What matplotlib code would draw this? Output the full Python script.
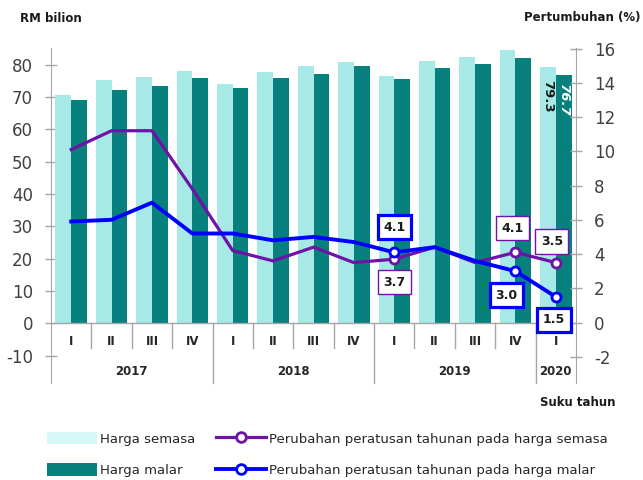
import matplotlib
matplotlib.use('Agg')
import matplotlib.pyplot as plt
from matplotlib.patches import Patch
from matplotlib.lines import Line2D
import numpy as np

# ---------------- data ----------------
years = ['2017', '2018', '2019', '2020']
year_span = [4, 4, 4, 1]
quarters = ['I', 'II', 'III', 'IV', 'I', 'II', 'III', 'IV', 'I', 'II', 'III', 'IV', 'I']
semasa = [70.7, 75.1, 76.1, 77.9, 73.9, 77.6, 79.4, 80.8, 76.6, 81.2, 82.3, 84.4, 79.3]
malar = [69.1, 72.2, 73.3, 75.8, 72.6, 75.8, 77.2, 79.4, 75.6, 79.0, 80.2, 82.0, 76.7]
pct_semasa = [10.1, 11.2, 11.2, 7.8, 4.2, 3.6, 4.4, 3.5, 3.7, 4.4, 3.5, 4.1, 3.5]
pct_malar = [5.9, 6.0, 7.0, 5.2, 5.2, 4.8, 5.0, 4.7, 4.1, 4.4, 3.6, 3.0, 1.5]
labelled_idx = [8, 11, 12]

# ---------------- style ----------------
c_light = '#A6E9E6'
c_light_leg = '#D6F8F9'
c_dark = '#08807D'
c_purple = '#6E12A8'
c_blue = '#0000FF'
c_axis = '#A6A6A6'
c_tick = '#404040'

plt.rcParams['font.family'] = ['DejaVu Sans']
plt.rcParams['axes.unicode_minus'] = False

fig = plt.figure(figsize=(6.43, 4.80), dpi=100)
W, H = 643, 480
x0, x1, y0, y1 = 51, 576, 48, 383
ax = fig.add_axes([x0 / W, 1 - y1 / H, (x1 - x0) / W, (y1 - y0) / H])
ax2 = ax.twinx()

n = len(quarters)
x = np.arange(n)
bw = 0.39
ax.bar(x - bw / 2, semasa, width=bw, color=c_light, zorder=2)
ax.bar(x + bw / 2, malar, width=bw, color=c_dark, zorder=2)

ax.set_xlim(-0.5, n - 0.5)
ax.set_ylim(-18.4, 85.1)
ax2.set_ylim(-3.53, 16.03)
ax.set_yticks(np.arange(-10, 81, 10))
ax2.set_yticks(np.arange(-2, 17, 2))
ax.set_xticks([])

for a in (ax, ax2):
    for s in ('top', 'bottom'):
        a.spines[s].set_visible(False)
    a.tick_params(axis='y', direction='inout', length=8, width=1,
                  color=c_axis, labelcolor=c_tick, labelsize=12, pad=9)
ax.spines['left'].set_color(c_axis)
ax.spines['right'].set_visible(False)
ax2.spines['left'].set_visible(False)
ax2.spines['right'].set_color(c_axis)
ax.set_facecolor('none')

# category axis at zero
ax.axhline(0, color=c_axis, lw=1, zorder=3)
# separators
bounds = np.cumsum(year_span)[:-1] - 0.5
for b in np.arange(0.5, n - 0.5, 1.0):
    if b in bounds:
        ax.plot([b, b], [0, -18.4], color=c_axis, lw=1, clip_on=False, zorder=3)
    else:
        ax.plot([b, b], [0, -7.6], color=c_axis, lw=1, clip_on=False, zorder=3)
for xi, q in zip(x, quarters):
    ax.text(xi, -5.5, q, ha='center', va='center', fontsize=8.5,
            fontweight='bold', color='#262626')
start = 0
for yname, span in zip(years, year_span):
    ax.text(start + (span - 1) / 2, -14.9, yname, ha='center', va='center',
            fontsize=8.5, fontweight='bold', color='#262626')
    start += span

# lines
ax2.plot(x, pct_semasa, color=c_purple, lw=2.3, zorder=4,
         marker='o', markevery=labelled_idx, markersize=6.5,
         markerfacecolor='white', markeredgewidth=2, markeredgecolor=c_purple)
ax2.plot(x, pct_malar, color=c_blue, lw=2.8, zorder=5,
         marker='o', markevery=labelled_idx, markersize=6.5,
         markerfacecolor='white', markeredgewidth=2, markeredgecolor=c_blue)

# data labels
off_semasa = {8: (0, -23), 11: (-3, 24), 12: (-4, 21)}
off_malar = {8: (0, 25), 11: (-9, -24), 12: (-2, -23)}
for i in labelled_idx:
    ax2.annotate(f'{pct_semasa[i]:.1f}', (x[i], pct_semasa[i]),
                 xytext=off_semasa[i], textcoords='offset pixels',
                 ha='center', va='center', fontsize=9, fontweight='bold',
                 color='#1a1a1a', zorder=6,
                 bbox=dict(boxstyle='square,pad=0.45', fc='white',
                           ec=c_purple, lw=1.0))
    ax2.annotate(f'{pct_malar[i]:.1f}', (x[i], pct_malar[i]),
                 xytext=off_malar[i], textcoords='offset pixels',
                 ha='center', va='center', fontsize=9, fontweight='bold',
                 color='#1a1a1a', zorder=6,
                 bbox=dict(boxstyle='square,pad=0.45', fc='white',
                           ec=c_blue, lw=2.3))

# rotated bar labels on the last quarter
li = n - 1
ax.text(x[li] - bw / 2, semasa[li] - 4, f'{semasa[li]:.1f}', rotation=-90,
        ha='center', va='top', fontsize=9.5, fontweight='bold', color='#1a1a1a',
        zorder=3)
ax.text(x[li] + bw / 2, malar[li] - 2.8, f'{malar[li]:.1f}', rotation=-90,
        ha='center', va='top', fontsize=9.5, fontweight='bold', style='italic',
        color='white', zorder=3)

# axis titles
fig.text(20 / W, 1 - 18 / H, 'RM bilion', ha='left', va='center',
         fontsize=8.5, fontweight='bold', color='#1a1a1a')
fig.text(640 / W, 1 - 17 / H, 'Pertumbuhan (%)', ha='right', va='center',
         fontsize=8.5, fontweight='bold', color='#1a1a1a')
fig.text(615 / W, 1 - 403 / H, 'Suku tahun', ha='right', va='center',
         fontsize=8.5, fontweight='bold', color='#1a1a1a')

# legend
handles = [
    Patch(facecolor=c_light_leg, edgecolor='none', label='Harga semasa'),
    Patch(facecolor=c_dark, edgecolor='none', label='Harga malar'),
    Line2D([0], [0], color=c_purple, lw=2.3, marker='o', markersize=7,
           markerfacecolor='white', markeredgewidth=2, markeredgecolor=c_purple,
           label='Perubahan peratusan tahunan pada harga semasa'),
    Line2D([0], [0], color=c_blue, lw=2.8, marker='o', markersize=7,
           markerfacecolor='white', markeredgewidth=2, markeredgecolor=c_blue,
           label='Perubahan peratusan tahunan pada harga malar'),
]
fig.legend(handles=handles, ncol=2, loc='upper left',
           bbox_to_anchor=(47 / W, 1 - 432 / H), frameon=False,
           fontsize=9.5, handlelength=3.8, handleheight=1.05,
           handletextpad=0.2, columnspacing=1.6, labelspacing=1.35,
           borderpad=0, borderaxespad=0, labelcolor='#262626')

fig.savefig('out.png', dpi=100)
